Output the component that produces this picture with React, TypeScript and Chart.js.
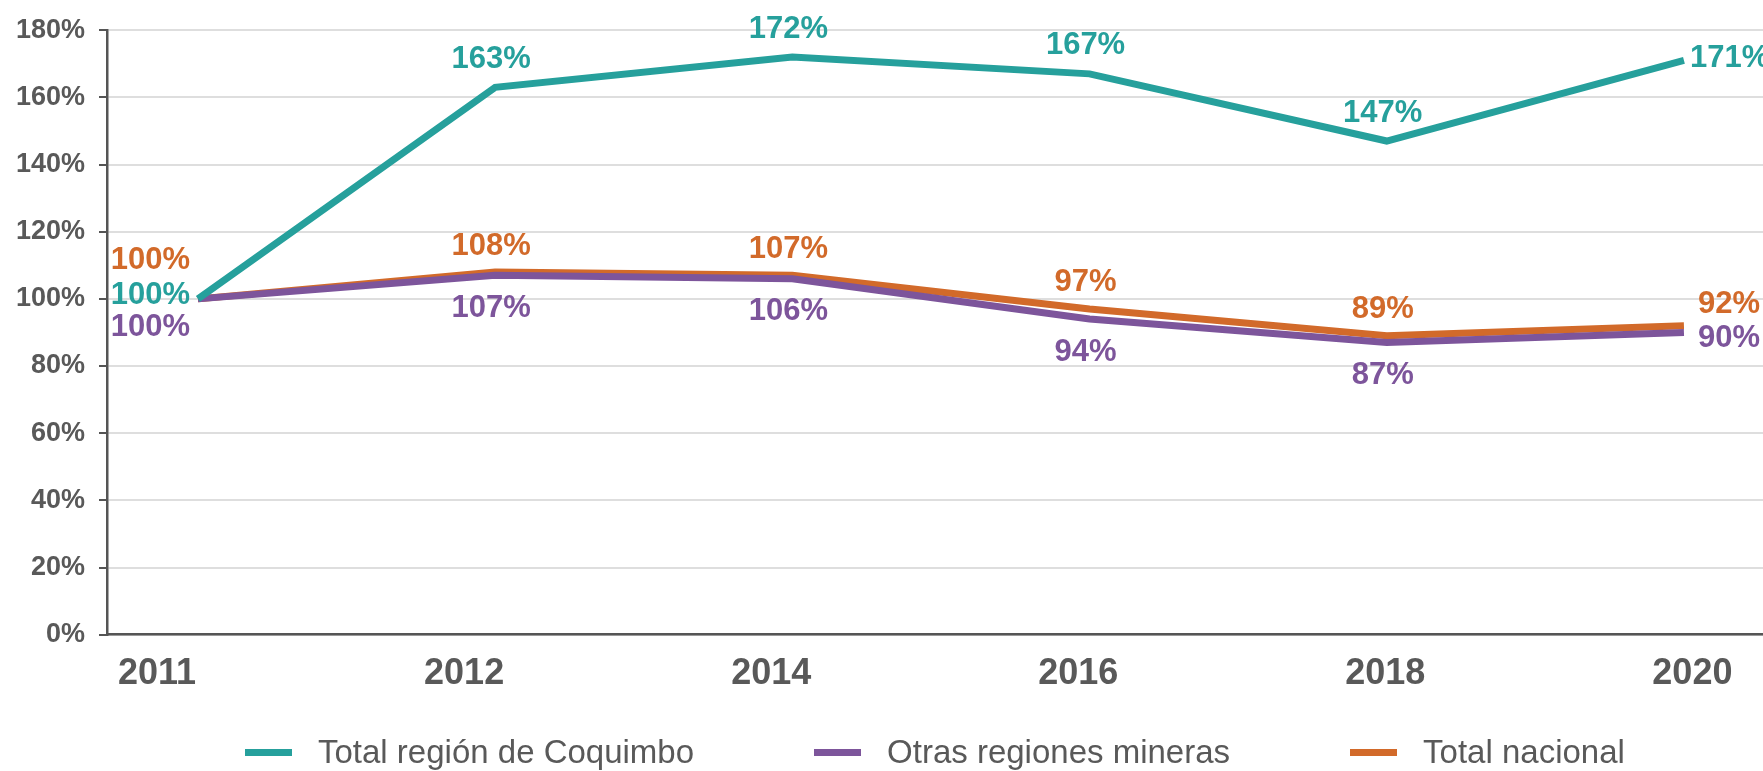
import React, { useEffect, useRef } from 'react';
import { Chart, registerables } from 'chart.js';

Chart.register(...registerables);

const years = ['2011', '2012', '2014', '2016', '2018', '2020'];
const coquimbo = [100, 163, 172, 167, 147, 171];
const otrasRegiones = [100, 107, 106, 94, 87, 90];
const totalNacional = [100, 108, 107, 97, 89, 92];
const seriesNames = ['Total región de Coquimbo', 'Otras regiones mineras', 'Total nacional'];
const seriesValues = [coquimbo, otrasRegiones, totalNacional];
const seriesColors = ['#26A09C', '#7D559B', '#D26A2A'];

// label placement styling per series (offsets in px relative to the point)
const labelStyles = [
  { firstDy: -3, midDy: -28, lastDx: 6, lastDy: -2 },
  { firstDy: 29, midDy: 33, lastDx: 14, lastDy: 6 },
  { firstDy: -38, midDy: -26, lastDx: 14, lastDy: -21 },
];

const FONT = '"Liberation Sans", Arial, sans-serif';
const TEXT_GREY = '#595959';

const pointLabelPlugin = {
  id: 'pointLabelPlugin',
  afterDatasetsDraw(chart: any) {
    const ctx = chart.ctx;
    chart.data.datasets.forEach((ds: any, di: number) => {
      const meta = chart.getDatasetMeta(di);
      const st = labelStyles[di];
      const n = meta.data.length;
      ctx.save();
      ctx.font = `bold 31px ${FONT}`;
      ctx.fillStyle = ds.borderColor;
      ctx.textBaseline = 'middle';
      meta.data.forEach((pt: any, i: number) => {
        const v = ds.data[i].y;
        let x = pt.x;
        let y = pt.y;
        if (i === 0) {
          ctx.textAlign = 'right';
          x -= 8;
          y += st.firstDy;
        } else if (i === n - 1) {
          ctx.textAlign = 'left';
          x += st.lastDx;
          y += st.lastDy;
        } else {
          ctx.textAlign = 'center';
          x -= 4;
          y += st.midDy;
        }
        ctx.fillText(`${v}%`, x, y);
      });
      ctx.restore();
    });
  },
};

export default function App() {
  const canvasRef = useRef<HTMLCanvasElement | null>(null);

  useEffect(() => {
    const canvas = canvasRef.current;
    if (!canvas) return;
    const chart = new Chart(canvas, {
      type: 'line',
      data: {
        datasets: seriesNames.map((name, si) => ({
          label: name,
          data: seriesValues[si].map((v, i) => ({ x: i, y: v })),
          borderColor: seriesColors[si],
          backgroundColor: seriesColors[si],
          borderWidth: 7,
          pointRadius: 0,
          pointHoverRadius: 0,
          tension: 0,
          fill: false,
        })),
      },
      options: {
        responsive: false,
        animation: false,
        devicePixelRatio: 1,
        layout: { padding: { top: 24.5, right: 0, bottom: 76.3, left: 0 } },
        plugins: {
          legend: { display: false },
          tooltip: { enabled: false },
        },
        scales: {
          x: {
            type: 'linear',
            position: 'bottom',
            weight: 0,
            min: -0.306,
            max: 5.266,
            afterBuildTicks: (scale: any) => {
              scale.ticks = years.map((_, i) => ({ value: i }));
            },
            afterFit: (scale: any) => {
              scale.height = 0;
            },
            grid: { display: false, drawTicks: false },
            border: { display: true, color: '#555555', width: 2.5 },
            ticks: { display: false },
          },
          xLabels: {
            type: 'linear',
            position: 'bottom',
            weight: 1,
            min: -0.163,
            max: 5.23,
            afterBuildTicks: (scale: any) => {
              scale.ticks = years.map((_, i) => ({ value: i }));
            },
            afterFit: (scale: any) => {
              scale.height = 60;
            },
            grid: { display: false, drawTicks: false },
            border: { display: false },
            ticks: {
              autoSkip: false,
              maxRotation: 0,
              padding: 18,
              color: TEXT_GREY,
              font: { family: FONT, size: 36, weight: 'bold' },
              callback: (v: any) => years[v as number] ?? '',
            },
          },
          y: {
            min: 0,
            max: 180,
            afterFit: (scale: any) => {
              scale.width = 107;
            },
            grid: {
              color: '#DEDEDE',
              lineWidth: 2,
              tickLength: 8,
              tickColor: '#555555',
              tickWidth: 2,
            },
            border: { display: true, color: '#555555', width: 2.5 },
            ticks: {
              stepSize: 20,
              padding: 14,
              color: TEXT_GREY,
              font: { family: FONT, size: 27, weight: 'bold' },
              callback: (v: any) => `${v}%`,
            },
          },
        },
      },
      plugins: [pointLabelPlugin],
    });
    return () => chart.destroy();
  }, []);

  return (
    <div style={{ position: 'absolute', left: 0, top: 0, width: 1763, height: 771, background: '#ffffff' }}>
      <canvas ref={canvasRef} width={1763} height={771} style={{ display: 'block' }} />
      <div
        style={{
          position: 'absolute',
          left: 245,
          top: 732,
          height: 40,
          display: 'flex',
          alignItems: 'center',
          fontFamily: FONT,
          fontSize: 33,
          color: TEXT_GREY,
          whiteSpace: 'nowrap',
        }}
      >
        {seriesNames.map((name, i) => (
          <div key={name} style={{ display: 'flex', alignItems: 'center', marginLeft: i === 0 ? 0 : 120 }}>
            <span style={{ display: 'inline-block', width: 47, height: 7, background: seriesColors[i], marginRight: 26 }} />
            <span>{name}</span>
          </div>
        ))}
      </div>
    </div>
  );
}
